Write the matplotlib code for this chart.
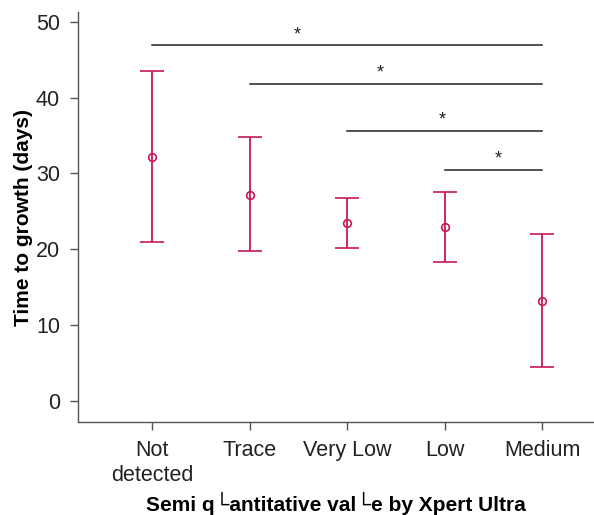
import numpy as np
import matplotlib.pyplot as plt

plt.rcParams['font.family'] = ['Liberation Sans', 'DejaVu Sans']

categories = ['Not\ndetected', 'Trace', 'Very Low', 'Low', 'Medium']
means = [32.2, 27.2, 23.5, 22.9, 13.2]
upper = [43.5, 34.8, 26.7, 27.6, 22.0]
lower = [21.0, 19.7, 20.2, 18.3, 4.4]

# significance brackets: start index, end index, line height, star x, star y
sig_start = [0, 1, 2, 3]
sig_end = [4, 4, 4, 4]
sig_y = [47.0, 41.8, 35.6, 30.5]
star_x = [1.49, 2.34, 2.97, 3.55]
star_y = [48.3, 43.2, 37.0, 31.9]

color = '#c8175b'

fig = plt.figure(figsize=(5.94, 5.15), dpi=100)
ax = fig.add_axes([78 / 594, 93 / 515, 1 - 78 / 594, 410 / 515])

x = np.arange(len(categories))
means = np.array(means)
yerr = [means - np.array(lower), np.array(upper) - means]
ax.errorbar(x, means, yerr=yerr, fmt='o', color=color, mfc='none', mec=color,
            ms=5.5, mew=1.2, elinewidth=1.3, capsize=8.6, capthick=1.3)

for s, e, y in zip(sig_start, sig_end, sig_y):
    ax.plot([x[s], x[e]], [y, y], color='#222222', lw=1.1)
for sx, sy in zip(star_x, star_y):
    ax.text(sx, sy, '*', ha='center', va='center', fontsize=13, color='#222222')

ax.set_xlim(-0.76, 4.53)
ax.set_ylim(-2.8, 51.3)
ax.set_yticks([0, 10, 20, 30, 40, 50])
ax.set_xticks(x)
ax.set_xticklabels(categories, linespacing=1.25)

for side in ['top', 'right']:
    ax.spines[side].set_visible(False)
for side in ['left', 'bottom']:
    ax.spines[side].set_color('#555555')
    ax.spines[side].set_linewidth(1.0)
ax.tick_params(direction='out', length=6, width=1, color='#555555',
               labelsize=15.5, labelcolor='#222222', pad=7)

ax.set_ylabel('Time to growth (days)', fontsize=15, fontweight='bold', labelpad=2)
ax.set_xlabel('Semi q\u2514antitative val\u2514e by Xpert Ultra', fontsize=15,
              fontweight='bold', labelpad=4)

fig.savefig('out.png', dpi=100)
